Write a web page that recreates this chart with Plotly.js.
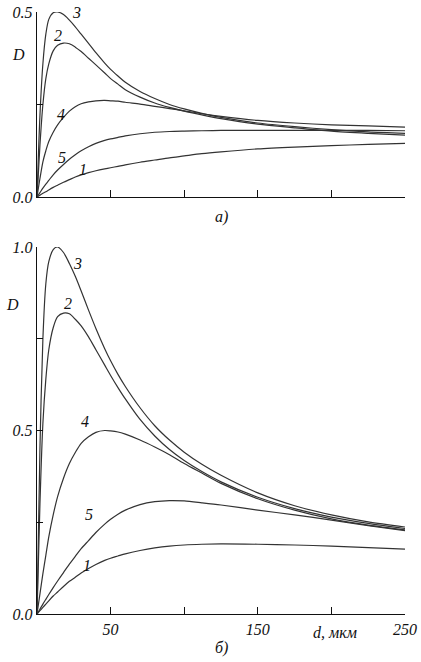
<!DOCTYPE html>
<html>
<head>
<meta charset="utf-8">
<script src="https://cdn.plot.ly/plotly-3.0.1.min.js"></script>
<style>html,body{margin:0;padding:0;background:#fff;}#chart{width:421px;height:662px;}</style>
</head>
<body>
<div id="chart"></div>
<script>
// thickness d, мкм (shared sample points)
const d = [0, 2, 4, 6, 8, 11, 14, 18, 22, 26, 30, 35, 40, 46, 50, 55, 60, 70, 80, 90, 100, 112, 125, 150, 175, 200, 225, 250];

// panel a)
const a1 = [0, 0.005, 0.01, 0.014, 0.019, 0.026, 0.032, 0.04, 0.047, 0.054, 0.06, 0.066, 0.071, 0.076, 0.079, 0.083, 0.087, 0.094, 0.1, 0.106, 0.111, 0.117, 0.122, 0.13, 0.135, 0.139, 0.142, 0.145];
const a2 = [0, 0.14, 0.25, 0.32, 0.36, 0.395, 0.41, 0.416, 0.414, 0.405, 0.393, 0.375, 0.357, 0.335, 0.32, 0.305, 0.29, 0.27, 0.254, 0.242, 0.232, 0.222, 0.212, 0.197, 0.187, 0.178, 0.172, 0.167];
const a3 = [0, 0.22, 0.36, 0.44, 0.48, 0.498, 0.5, 0.493, 0.478, 0.46, 0.44, 0.415, 0.39, 0.362, 0.345, 0.327, 0.31, 0.285, 0.266, 0.25, 0.238, 0.226, 0.215, 0.2, 0.19, 0.182, 0.176, 0.172];
const a4 = [0, 0.05, 0.095, 0.125, 0.15, 0.175, 0.195, 0.215, 0.232, 0.244, 0.252, 0.257, 0.26, 0.261, 0.26, 0.259, 0.256, 0.251, 0.245, 0.239, 0.233, 0.225, 0.218, 0.207, 0.2, 0.195, 0.192, 0.189];
const a5 = [0, 0.012, 0.024, 0.035, 0.045, 0.06, 0.073, 0.088, 0.102, 0.114, 0.125, 0.136, 0.145, 0.153, 0.157, 0.161, 0.165, 0.171, 0.175, 0.177, 0.178, 0.179, 0.18, 0.18, 0.18, 0.18, 0.18, 0.179];

// panel б)
const b1 = [0, 0.009, 0.018, 0.027, 0.036, 0.049, 0.06, 0.075, 0.089, 0.1, 0.112, 0.124, 0.135, 0.146, 0.152, 0.158, 0.164, 0.173, 0.18, 0.185, 0.188, 0.19, 0.191, 0.19, 0.188, 0.185, 0.181, 0.177];
const b2 = [0, 0.3, 0.52, 0.64, 0.72, 0.78, 0.81, 0.82, 0.818, 0.803, 0.785, 0.755, 0.72, 0.678, 0.65, 0.617, 0.586, 0.53, 0.485, 0.448, 0.418, 0.388, 0.36, 0.318, 0.287, 0.264, 0.247, 0.233];
const b3 = [0, 0.45, 0.75, 0.9, 0.96, 0.993, 1.0, 0.985, 0.955, 0.92, 0.88, 0.828, 0.778, 0.723, 0.69, 0.653, 0.62, 0.562, 0.513, 0.474, 0.441, 0.408, 0.378, 0.33, 0.295, 0.27, 0.251, 0.237];
const b4 = [0, 0.055, 0.11, 0.16, 0.21, 0.27, 0.32, 0.37, 0.41, 0.44, 0.465, 0.483, 0.495, 0.5, 0.499, 0.496, 0.49, 0.474, 0.455, 0.434, 0.41, 0.384, 0.356, 0.314, 0.283, 0.259, 0.242, 0.229];
const b5 = [0, 0.013, 0.027, 0.04, 0.053, 0.072, 0.09, 0.113, 0.136, 0.157, 0.178, 0.2, 0.222, 0.245, 0.258, 0.272, 0.283, 0.298, 0.306, 0.309, 0.308, 0.303, 0.297, 0.283, 0.27, 0.256, 0.241, 0.227];

const curveNames = ['1', '2', '3', '4', '5'];
const xTickVals = [50, 100, 150, 200, 250];
const xTickTextB = ['50', '', '150', '', '250'];
const yTickValsA = [0, 0.25, 0.5];
const yTickTextA = ['0.0', '', '0.5'];
const yTickValsB = [0, 0.25, 0.5, 0.75, 1.0];
const yTickTextB = ['0.0', '', '0.5', '', '1.0'];

// label positions (data coords) for curve numbers
const labA = {x: [31, 14, 27, 16.5, 17], y: [0.073, 0.436, 0.499, 0.222, 0.106]};
const labB = {x: [34, 21, 27.5, 32.5, 35], y: [0.131, 0.845, 0.956, 0.524, 0.27]};

const lineStyle = {color: '#333', width: 1.2, shape: 'spline', smoothing: 0.8};
const serif = 'Liberation Serif, DejaVu Serif, serif';
const tfont = {family: serif, size: 16, color: '#111', style: 'italic'};

const traces = [];
[a1, a2, a3, a4, a5].forEach((s, i) => traces.push({x: d, y: s, xaxis: 'x', yaxis: 'y', mode: 'lines', line: lineStyle, name: curveNames[i], hoverinfo: 'skip'}));
[b1, b2, b3, b4, b5].forEach((s, i) => traces.push({x: d, y: s, xaxis: 'x2', yaxis: 'y2', mode: 'lines', line: lineStyle, name: curveNames[i], hoverinfo: 'skip'}));

const annotations = [];
curveNames.forEach((n, i) => {
  annotations.push({x: labA.x[i], y: labA.y[i], xref: 'x', yref: 'y', text: n, showarrow: false, font: tfont});
  annotations.push({x: labB.x[i], y: labB.y[i], xref: 'x2', yref: 'y2', text: n, showarrow: false, font: tfont});
});
annotations.push({x: 0.043, y: 0.385, xref: 'paper', yref: 'y', xanchor: 'center', yanchor: 'middle', text: 'D', showarrow: false, font: tfont});
annotations.push({x: 0.029, y: 0.842, xref: 'paper', yref: 'y2', xanchor: 'center', yanchor: 'middle', text: 'D', showarrow: false, font: tfont});
annotations.push({x: 200, y: 0.0453, xref: 'x2', yref: 'paper', xanchor: 'center', yanchor: 'middle', text: 'd, мкм', showarrow: false, font: tfont, xshift: 4});
annotations.push({x: 0.527, y: 0.672, xref: 'paper', yref: 'paper', xanchor: 'center', yanchor: 'middle', text: 'a)', showarrow: false, font: tfont});
annotations.push({x: 0.527, y: 0.021, xref: 'paper', yref: 'paper', xanchor: 'center', yanchor: 'middle', text: 'б)', showarrow: false, font: tfont});

const axX = {range: [0, 250], showgrid: false, zeroline: false, showline: true, linecolor: '#111', linewidth: 1.3,
  ticks: 'inside', ticklen: 7, tickcolor: '#111', tickwidth: 1.2, tickvals: xTickVals, tickfont: tfont, fixedrange: true};
const axY = {showgrid: false, zeroline: false, showline: true, linecolor: '#111', linewidth: 1.3,
  ticks: 'inside', ticklen: 6, tickcolor: '#111', tickwidth: 1.2, tickfont: tfont, fixedrange: true};

const layout = {
  width: 421, height: 662,
  margin: {l: 0, r: 0, t: 0, b: 0},
  paper_bgcolor: '#fff', plot_bgcolor: '#fff',
  showlegend: false,
  xaxis: Object.assign({}, axX, {domain: [0.0879, 0.962], anchor: 'y', showticklabels: false}),
  yaxis: Object.assign({}, axY, {domain: [0.7024, 0.9819], anchor: 'x', range: [0, 0.5], tickvals: yTickValsA, ticktext: yTickTextA}),
  xaxis2: Object.assign({}, axX, {domain: [0.0879, 0.962], anchor: 'y2', ticktext: xTickTextB}),
  yaxis2: Object.assign({}, axY, {domain: [0.0725, 0.6269], anchor: 'x2', range: [0, 1.0], tickvals: yTickValsB, ticktext: yTickTextB}),
  annotations: annotations
};

Plotly.newPlot('chart', traces, layout, {staticPlot: true, displayModeBar: false});
</script>
</body>
</html>
